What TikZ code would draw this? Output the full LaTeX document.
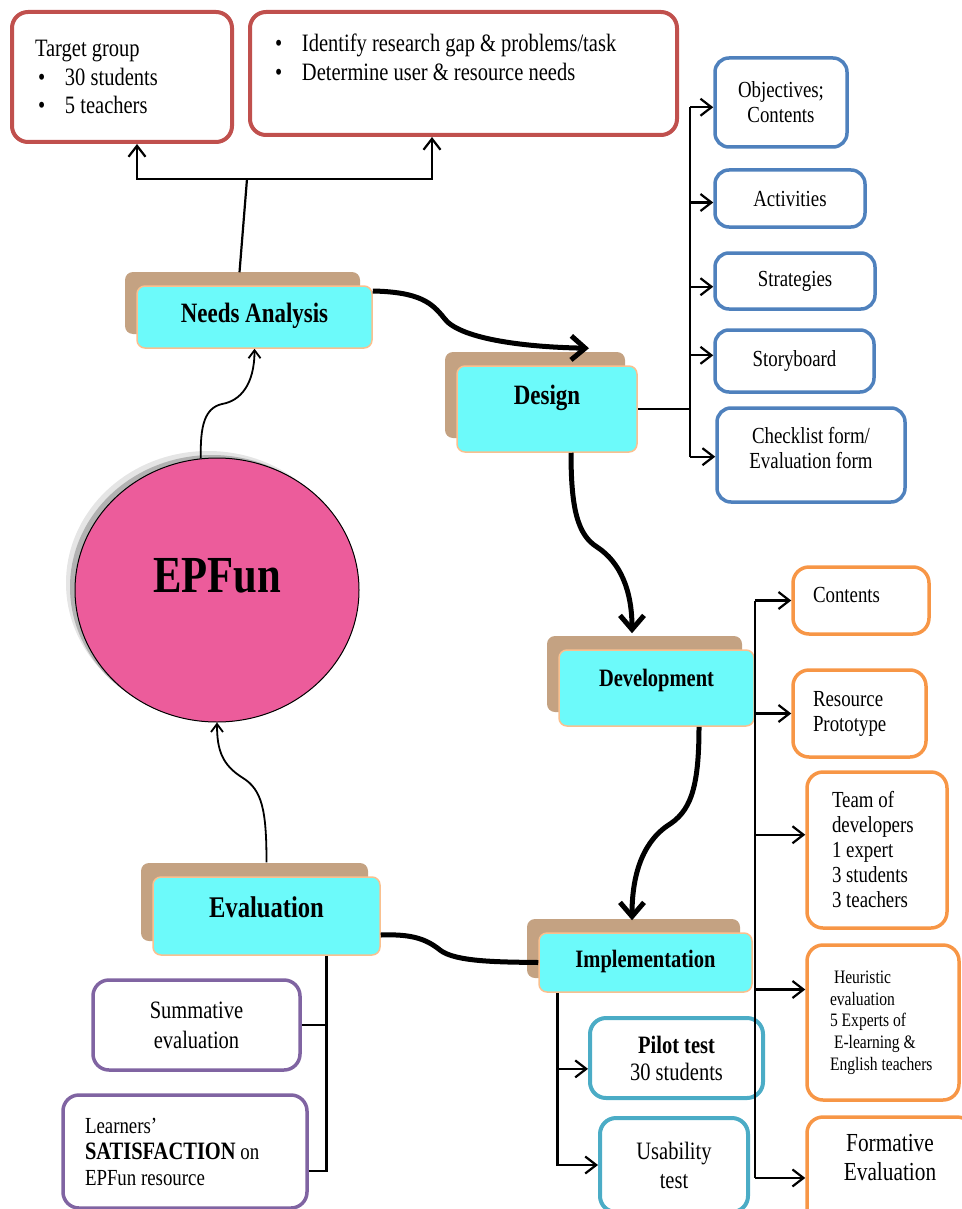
\documentclass[tikz,border=0pt]{standalone}
\usepackage{fontspec}
\setmainfont{Liberation Serif}[FakeStretch=0.82]
\usepackage{tikz}
\usetikzlibrary{shapes.geometric,arrows.meta,shadows}

\definecolor{redline}{RGB}{192,80,77}
\definecolor{blueline}{RGB}{79,129,189}
\definecolor{orangeline}{RGB}{247,150,70}
\definecolor{tealline}{RGB}{75,172,198}
\definecolor{purpleline}{RGB}{128,100,162}
\definecolor{phasefill}{RGB}{108,250,250}
\definecolor{phaseline}{RGB}{250,192,143}
\definecolor{shadowtan}{RGB}{196,162,130}
\definecolor{epfpink}{RGB}{236,92,155}

\newcommand{\bul}{\makebox[27pt][l]{\textbullet}}

\begin{document}
\begin{tikzpicture}[x=1pt, y=-1pt,
    every node/.style={execute at begin node={\spaceskip=0pt\xspaceskip=0pt\relax}},
    phase/.style={rectangle, rounded corners=8pt, draw=phaseline, line width=1.5pt, fill=phasefill,
        general shadow={fill=shadowtan, shadow xshift=-12pt, shadow yshift=14pt}},
    epf/.style={ellipse, draw, line width=1pt, fill=epfpink, minimum width=284pt, minimum height=264pt,
        font=\bfseries\fontsize{52}{52}\selectfont, text height=35pt, text depth=31pt,
        general shadow={fill=gray!20, shadow xshift=-9pt, shadow yshift=7pt},
        general shadow={fill=gray!60, shadow xshift=-5pt, shadow yshift=3pt}},
    rbox/.style={rectangle, rounded corners=16pt, draw=redline, line width=4pt, align=left, font=\fontsize{25}{28.5}\selectfont},
    bbox/.style={rectangle, rounded corners=14pt, draw=blueline, line width=3.5pt, align=center, font=\fontsize{23}{25}\selectfont},
    obox/.style={rectangle, rounded corners=16pt, draw=orangeline, line width=3.5pt, align=left, font=\fontsize{23}{25}\selectfont},
    tbox/.style={rectangle, rounded corners=16pt, draw=tealline, line width=4pt, align=center, font=\fontsize{25}{27}\selectfont},
    pbox/.style={rectangle, rounded corners=16pt, draw=purpleline, line width=3.5pt, font=\fontsize{25}{30}\selectfont},
    link/.style={line width=2.2pt},
    arr/.style={link, -{Straight Barb[length=11pt,width=17pt]}},
    thinarr/.style={line width=1.8pt, -{Straight Barb[length=8pt,width=12pt]}},
    bigline/.style={line width=5pt},
    bigarr/.style={bigline, -{Straight Barb[length=14pt,width=24pt]}}]
    \useasboundingbox (0,0) rectangle (961,1209);

    \node[rbox, text width=174pt, inner xsep=23pt, minimum height=130pt] (tgt) at (122,77)
        {Target group\\ \hspace*{3pt}\bul 30 students\\ \hspace*{3pt}\bul 5 teachers};
    \node[rbox, text width=377pt, inner xsep=25pt, minimum height=123pt, text height=17pt, text depth=60pt] (need) at (463.5,73.5)
        {\bul Identify research gap \& problems/task\\ \bul Determine user \& resource needs};

    \node[phase, font=\bfseries\fontsize{28}{28}\selectfont, minimum width=235pt, minimum height=62pt, text height=20pt, text depth=10pt] (NA) at (254.5,317) {Needs Analysis};
    \node[phase, font=\bfseries\fontsize{28}{28}\selectfont, minimum width=180pt, minimum height=86pt, text height=20pt, text depth=30pt] (dsg) at (547,409) {Design};
    \node[phase, font=\bfseries\fontsize{25}{25}\selectfont, minimum width=195pt, minimum height=76pt, text height=18pt, text depth=22pt] (dev) at (656.5,688) {Development};
    \node[phase, font=\bfseries\fontsize{25}{25}\selectfont, minimum width=213pt, minimum height=59pt, text height=18pt, text depth=9pt] (impl) at (645.5,962.5) {Implementation};
    \node[phase, font=\bfseries\fontsize{30}{30}\selectfont, minimum width=227pt, minimum height=78pt, text height=21pt, text depth=19pt] (eval) at (266.5,916) {Evaluation};

    \node[epf] (epf) at (217,590) {EPFun};

    \node[bbox, minimum width=132pt, minimum height=89pt] (obj) at (781,102.5) {Objectives;\\Contents};
    \node[bbox, minimum width=150pt, minimum height=57pt] (act) at (790,198.5) {Activities};
    \node[bbox, minimum width=160pt, minimum height=56pt] (str) at (795,281) {Strategies};
    \node[bbox, minimum width=159pt, minimum height=62pt] (sto) at (794.5,361) {Storyboard};
    \node[bbox, minimum width=188pt, minimum height=94pt, text height=41pt, text depth=14pt] (chk) at (811,455) {Checklist form/\\Evaluation form};

    \node[obox, text width=96pt, inner xsep=20pt, minimum height=67pt, text height=16pt, text depth=12pt] (con) at (861,600.5) {Contents};
    \node[obox, text width=93pt, inner xsep=20pt, minimum height=87pt] (res) at (859.5,713.5) {Resource\\Prototype};
    \node[obox, text width=90pt, inner xsep=25pt, minimum height=156pt] (team) at (877,850)
        {Team of\\developers\\1 expert\\3 students\\3 teachers};
    \node[obox, text width=106pt, inner xsep=23pt, minimum height=155pt, font=\fontsize{19}{21.7}\selectfont] (heu) at (883,1022.5)
        {\hspace*{4pt}Heuristic\\evaluation\\5 Experts of\\\hspace*{4pt}E-learning \&\\\mbox{English teachers}};
    \node[obox, align=center, text width=146pt, inner xsep=10pt, minimum height=113pt, text height=17pt, text depth=61pt,
        font=\fontsize{26}{29}\selectfont] (form) at (890,1173.5) {Formative\\Evaluation};

    \node[tbox, minimum width=173pt, minimum height=80pt] (pilot) at (676.5,1058) {{\bfseries Pilot test}\\30 students};
    \node[tbox, minimum width=148pt, minimum height=94pt, font=\fontsize{25}{29}\selectfont] (usab) at (674,1165) {Usability\\test};

    \node[pbox, align=center, minimum width=207pt, minimum height=90pt] (sum) at (196.5,1025) {Summative\\evaluation};
    \node[pbox, align=left, text width=200pt, inner xsep=22pt, minimum height=113pt, font=\fontsize{23}{26}\selectfont] (learn) at (185,1151.5)
        {Learners'\\ {\bfseries\fontsize{25}{26}\selectfont SATISFACTION} on\\ EPFun resource};

    \coordinate (nasplit) at (247,179);
    \coordinate (dj) at (690,409);
    \coordinate (rj) at (755,688);
    \coordinate (ij) at ([xshift=-88pt]impl.south);
    \coordinate (ej) at ([xshift=60pt]eval.south);

    \draw[link] ([shift={(-15pt,13pt)}]NA.north) -- (nasplit);
    \draw[arr] (nasplit) -| ([xshift=15pt]tgt.south);
    \draw[arr] (nasplit) -| ([xshift=-31.5pt]need.south);

    \draw[thinarr] (epf.97) .. controls (200,425) and (205,408) .. (222,404) .. controls (240,401) and (254.5,385) .. (NA.south);
    \draw[bigarr] ([yshift=26pt]NA.east) .. controls (420,292) and (432,303) .. (444,318) .. controls (458,338) and (520,347) .. ([shift={(42pt,17pt)}]dsg.north);
    \draw[bigarr] ([xshift=24pt]dsg.south) .. controls (571,510) and (578,535) .. (597,547) .. controls (620,562) and (632,590) .. ([shift={(-24.5pt,16pt)}]dev.north);
    \draw[bigarr] ([xshift=42.5pt]dev.south) .. controls (699,790) and (690,812) .. (667,826) .. controls (640,845) and (632,880) .. ([shift={(-13.5pt,12pt)}]impl.north);
    \draw[bigline] ([yshift=-19pt]eval.east) .. controls (410,934) and (425,938) .. (440,950) .. controls (455,962) and (500,962) .. (impl.west);
    \draw[thinarr] ([yshift=14pt]eval.north) .. controls (266.5,810) and (262,790) .. (243,778) .. controls (222,765) and (217,750) .. (epf.south);

    \draw[link] (dsg.east) -- (dj);
    \draw[link] (dj |- obj.184) -- (dj |- chk.181);
    \foreach \b/\a in {obj/184,act/183,str/184,sto/176,chk/181}
        \draw[arr] (dj |- \b.\a) -- (\b.\a);

    \draw[link] (rj |- con.west) -- (rj |- form.183);
    \foreach \b/\a in {con/180,res/180,team/168,heu/157,form/183}
        \draw[arr] (rj |- \b.\a) -- (\b.\a);

    \draw[arr] (ij) |- (usab.west);
    \draw[arr] (ij |- pilot.187) -- (pilot.187);

    \draw[link] (ej) |- (learn.351);
    \draw[link] (sum.east) -- (ej |- sum.east);
\end{tikzpicture}
\end{document}
